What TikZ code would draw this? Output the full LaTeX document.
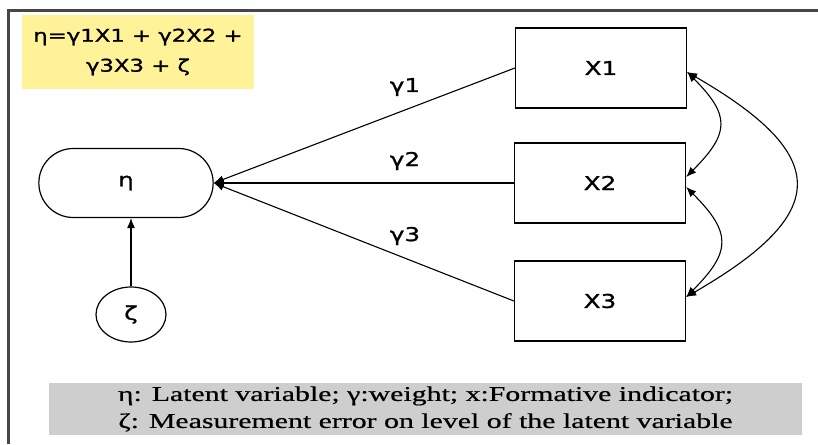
\documentclass[tikz,border=0pt]{standalone}
\usepackage{fontspec}
\setmainfont{Liberation Serif}
\newfontfamily\diagfont[FakeStretch=1.3,FakeBold=1.2]{DejaVu Sans}
\newfontfamily\legendfont[FakeStretch=1.42,FakeBold=0.6]{Liberation Serif}
\usetikzlibrary{arrows.meta,shapes.misc,shapes.geometric}
\definecolor{eqyellow}{RGB}{255,242,153}
\definecolor{legendgray}{RGB}{206,206,206}
\definecolor{framegray}{RGB}{70,70,70}
\begin{document}
\begin{tikzpicture}[x=1pt,y=1pt,
    every node/.style={font=\diagfont\fontsize{19}{19}\selectfont},
    indicator/.style={draw,line width=1.2pt,minimum width=171pt,minimum height=80pt,inner sep=0pt},
    weight/.style={line width=1.1pt,-{Latex[length=10pt,width=8pt]}},
    covar/.style={line width=1.1pt,{Latex[length=10pt,width=8pt]}-{Latex[length=10pt,width=8pt]}}]
    \useasboundingbox (0,0) rectangle (818,-444);
    \draw[framegray,line width=2.3pt] (8.5,-444)--(8.5,-10.5)--(818,-10.5);
    \node[fill=eqyellow,minimum width=232pt,minimum height=74pt,align=center,
        font=\diagfont\fontsize{17.5}{30}\selectfont] (eq) at (138,-52)
        {η=γ1X1 + γ2X2 +\\γ3X3 + ζ};
    \node[draw,line width=1.2pt,rounded rectangle,minimum width=181pt,minimum height=69pt] (eta) at (126,-183) {η};
    \node[draw,line width=1.2pt,ellipse,minimum width=70pt,minimum height=55pt,inner sep=0pt] (zeta) at (131,-314.5) {ζ};
    \node[indicator] (x1) at (601,-68) {X1};
    \node[indicator] (x2) at (600,-183) {X2};
    \node[indicator] (x3) at (600,-301) {X3};
    \draw[weight] (zeta)--(zeta |- eta.south);
    \draw[weight] (x1.west)--(eta.east);
    \draw[weight] (x2.west)--(eta.east);
    \draw[weight] (x3.west)--(eta.east);
    \node (g1) at (405,-87) {γ1};
    \node (g2) at (405,-161) {γ2};
    \node (g3) at (405,-236) {γ3};
    \draw[covar] ([yshift=-4pt]x1.east) to[out=-45,in=45,looseness=1.5] ([yshift=6pt]x2.east);
    \draw[covar] ([yshift=-4pt]x2.east) to[out=-45,in=45,looseness=1.5] ([yshift=4pt]x3.east);
    \draw[covar] ([yshift=-4pt]x1.east) to[out=-30,in=30,looseness=1.9] ([yshift=4pt]x3.east);
    \node[fill=legendgray,minimum width=753pt,minimum height=52pt,align=center,
        font=\legendfont\fontsize{21}{27}\selectfont] (legend) at (425.5,-409)
        {η: Latent variable; γ:weight; x:Formative indicator;\\ζ: Measurement error on level of the latent variable};
\end{tikzpicture}
\end{document}
